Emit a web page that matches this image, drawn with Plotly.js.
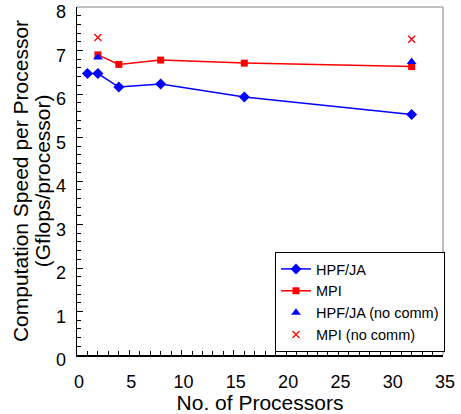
<!DOCTYPE html>
<html>
<head>
<meta charset="utf-8">
<script src="https://cdn.plot.ly/plotly-3.0.1.min.js"></script>
<style>html,body{margin:0;padding:0;background:#fff;}#chart{width:461px;height:414px;}</style>
</head>
<body>
<div id="chart"></div>
<script>
const hpfX = [1, 2, 4, 8, 16, 32];
const hpfY = [6.47, 6.47, 6.16, 6.23, 5.93, 5.53];
const mpiX = [2, 4, 8, 16, 32];
const mpiY = [6.9, 6.68, 6.78, 6.71, 6.63];
const hpfNoCommX = [2, 32];
const hpfNoCommY = [6.84, 6.74];
const mpiNoCommX = [2, 32];
const mpiNoCommY = [7.3, 7.26];
const seriesNames = ['HPF/JA', 'MPI', 'HPF/JA (no comm)', 'MPI (no comm)'];
const yTitleLines = ['Computation Speed per Processor', '(Gflops/processor)'];

const font = 'Liberation Sans, Arial, sans-serif';
const traces = [
  {x: hpfX, y: hpfY, name: seriesNames[0], mode: 'lines+markers',
   line: {color: '#0000ff', width: 1.5}, marker: {symbol: 'diamond', size: 8.5, color: '#0000ff'}},
  {x: mpiX, y: mpiY, name: seriesNames[1], mode: 'lines+markers',
   line: {color: '#ff0000', width: 1.5}, marker: {symbol: 'square', size: 7, color: '#ff0000'}},
  {x: hpfNoCommX, y: hpfNoCommY, name: seriesNames[2], mode: 'markers',
   marker: {symbol: 'triangle-up', size: 8.5, color: '#0000ff'}},
  {x: mpiNoCommX, y: mpiNoCommY, name: seriesNames[3], mode: 'markers',
   marker: {symbol: 'x-thin-open', size: 7, color: '#ff0000', line: {color: '#ff0000', width: 1.3}}}
];

const layout = {
  width: 461, height: 414,
  margin: {l: 77, r: 18, t: 7, b: 59},
  paper_bgcolor: '#fff', plot_bgcolor: '#fff',
  font: {family: font, color: '#000'},
  showlegend: true,
  legend: {x: 0.541, y: 0.296, xanchor: 'left', yanchor: 'top',
    bgcolor: '#fff', bordercolor: '#000', borderwidth: 1,
    font: {size: 14.5, family: font, color: '#000'}, itemwidth: 30, tracegroupgap: 0},
  xaxis: {range: [0, 35], dtick: 5, tick0: 0, showgrid: false, zeroline: false,
    showline: true, linecolor: '#000', linewidth: 1.5,
    ticks: 'inside', ticklen: 5, tickcolor: '#000', tickwidth: 1,
    minor: {dtick: 1, ticks: 'inside', ticklen: 4, tickcolor: '#000', showgrid: false},
    tickfont: {size: 18, family: font}, ticklabelstandoff: 10, ticklabelshift: 2,
    title: {text: 'No. of Processors', font: {size: 21, family: font}, standoff: 0}},
  yaxis: {range: [0, 8], dtick: 1, tick0: 0, showgrid: false, zeroline: false,
    showline: true, linecolor: '#000', linewidth: 1.5,
    ticks: 'inside', ticklen: 6, tickcolor: '#000', tickwidth: 1,
    minor: {dtick: 0.2, ticks: 'inside', ticklen: 4, tickcolor: '#000', showgrid: false},
    tickfont: {size: 18, family: font}, ticklabelstandoff: 6, ticklabelshift: 5,
    title: {text: yTitleLines[0], font: {size: 21, family: font}, standoff: 21}},
  annotations: [
    {text: yTitleLines[1], xref: 'paper', yref: 'paper', x: -0.095, y: 0.5,
     xanchor: 'center', yanchor: 'middle', textangle: -90, showarrow: false,
     font: {size: 21, family: font, color: '#000'}}
  ],
  shapes: [
    {type: 'line', xref: 'paper', yref: 'paper', x0: 0, x1: 1, y0: 1, y1: 1, line: {color: '#aaaaaa', width: 1.5}},
    {type: 'line', xref: 'paper', yref: 'paper', x0: 1, x1: 1, y0: 0, y1: 1, line: {color: '#aaaaaa', width: 1.5}}
  ]
};

Plotly.newPlot('chart', traces, layout, {displayModeBar: false, staticPlot: true});
</script>
</body>
</html>
